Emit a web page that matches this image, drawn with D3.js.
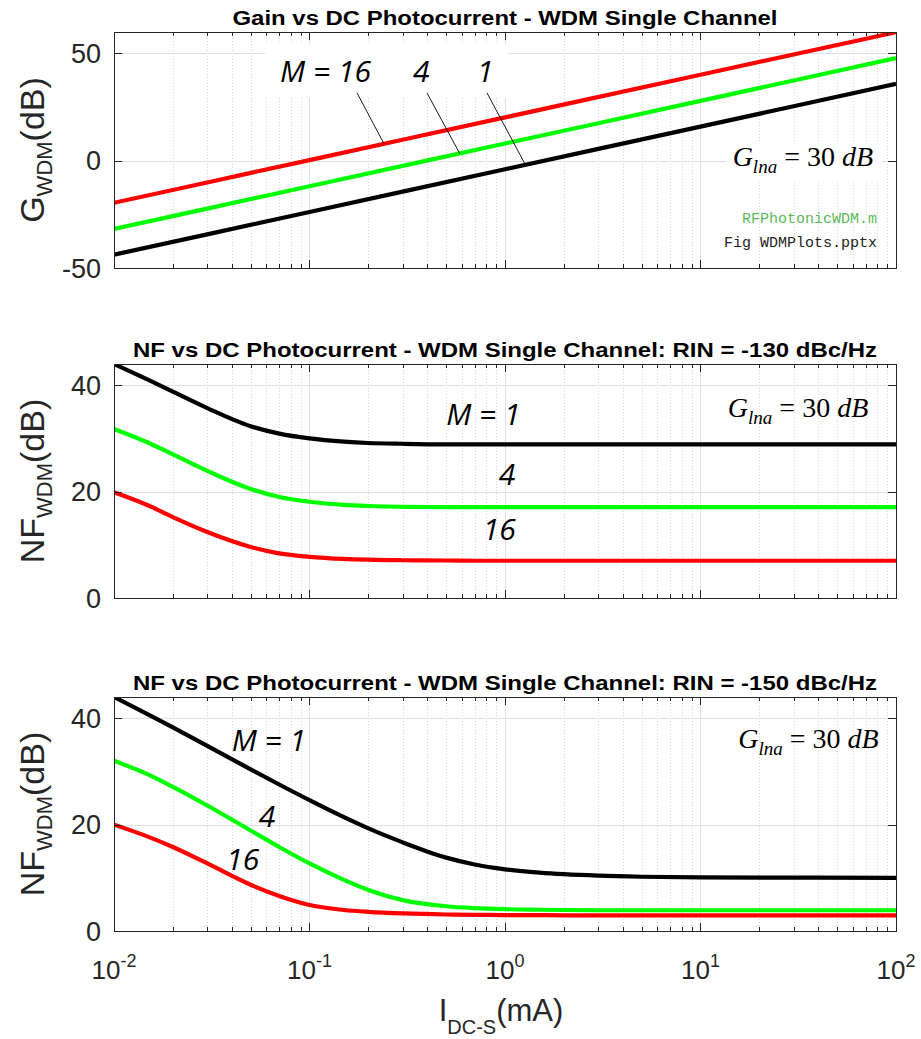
<!DOCTYPE html>
<html><head><meta charset="utf-8">
<script src="https://cdn.jsdelivr.net/npm/d3@7"></script>
<style>body{margin:0;background:#fff} svg{display:block}</style>
</head><body>
<svg id="c" width="921" height="1039"></svg>
<script>
// ---------------- DATA ----------------
const xDomain = [0.01, 100];
const xTickValues = [0.01, 0.1, 1, 10, 100];
const xTickExponents = ["-2", "-1", "0", "1", "2"];

// Panel 1: gain (straight lines on log-x), sampled at decades
const gainX = [0.01, 0.1, 1, 10, 100];
const gainM1  = [-43.8, -23.9, -4.0, 15.9, 35.8];
const gainM4  = [-31.8, -11.9, 8.0, 27.9, 47.8];
const gainM16 = [-19.6, 0.3, 20.2, 40.1, 59.9];
const gainYTicks = [-50, 0, 50];

// Panels 2 & 3: NF vs photocurrent
const nfX = [0.01, 0.015, 0.02, 0.03, 0.05, 0.07, 0.1, 0.15, 0.2, 0.3, 0.5, 0.7, 1, 1.5, 2, 3, 5, 10, 100];
const nf130M1  = [44.0, 41.0, 38.8, 35.7, 32.3, 30.9, 30.0, 29.4, 29.15, 29.0, 28.9, 28.9, 28.9, 28.9, 28.9, 28.9, 28.9, 28.9, 28.9];
const nf130M4  = [31.8, 29.2, 27.0, 23.9, 20.5, 19.0, 18.1, 17.5, 17.3, 17.15, 17.1, 17.1, 17.1, 17.1, 17.1, 17.1, 17.1, 17.1, 17.1];
const nf130M16 = [19.9, 17.4, 15.2, 12.4, 9.6, 8.4, 7.75, 7.35, 7.2, 7.1, 7.05, 7.0, 7.0, 7.0, 7.0, 7.0, 7.0, 7.0, 7.0];
const nf150M1  = [44.0, 40.7, 38.3, 34.8, 30.4, 27.55, 24.6, 21.4, 19.3, 16.66, 13.8, 12.5, 11.6, 10.98, 10.68, 10.4, 10.2, 10.08, 10.0];
const nf150M4  = [32.0, 29.4, 27.1, 23.6, 18.9, 15.8, 12.7, 9.6, 7.7, 5.8, 4.65, 4.3, 4.1, 4.0, 3.95, 3.9, 3.9, 3.9, 3.9];
const nf150M16 = [20.0, 17.7, 15.8, 12.7, 8.7, 6.6, 4.9, 3.95, 3.6, 3.3, 3.1, 3.05, 3.0, 2.98, 2.95, 2.95, 2.95, 2.95, 2.95];
const nfYTicks = [0, 20, 40];

const seriesColors = ["#000000", "#00ff00", "#ff0000"]; // M = 1, 4, 16
const titles = [
  "Gain vs DC Photocurrent - WDM Single Channel",
  "NF vs DC Photocurrent - WDM Single Channel: RIN = -130 dBc/Hz",
  "NF vs DC Photocurrent - WDM Single Channel: RIN = -150 dBc/Hz"
];
const titleWidths = [545, 744, 744];

// ---------------- LAYOUT ----------------
const X0 = 114, X1 = 896;
const x = d3.scaleLog().domain(xDomain).range([X0, X1]);
const svg = d3.select("#c");
const axisColor = "#262626";

const panels = [
  {top: 32, bottom: 268, domain: [-50, 60], ticks: gainYTicks, title: titles[0], tw: titleWidths[0], ylab: "G",
   xs: gainX, series: [gainM1, gainM4, gainM16], showX: false},
  {top: 364, bottom: 598, domain: [0, 44], ticks: nfYTicks, title: titles[1], tw: titleWidths[1], ylab: "NF",
   xs: nfX, series: [nf130M1, nf130M4, nf130M16], showX: false},
  {top: 697, bottom: 931, domain: [0, 44], ticks: nfYTicks, title: titles[2], tw: titleWidths[2], ylab: "NF",
   xs: nfX, series: [nf150M1, nf150M4, nf150M16], showX: true}
];

const minorVals = [];
for (let e = -2; e < 2; e++) for (let m = 2; m <= 9; m++) minorVals.push(m * Math.pow(10, e));

panels.forEach((p, i) => {
  const y = d3.scaleLinear().domain(p.domain).range([p.bottom, p.top]);
  p.y = y;
  const g = svg.append("g");
  const clipId = "clip" + i;
  svg.append("clipPath").attr("id", clipId).append("rect")
    .attr("x", X0).attr("y", p.top).attr("width", X1 - X0).attr("height", p.bottom - p.top);

  // grid
  g.selectAll(".minor").data(minorVals).enter().append("line")
    .attr("x1", d => Math.round(x(d)) + 0.5).attr("x2", d => Math.round(x(d)) + 0.5)
    .attr("y1", p.top).attr("y2", p.bottom)
    .attr("stroke", "#d6d6d6").attr("stroke-width", 1).attr("stroke-dasharray", "1,2");
  g.selectAll(".major").data(xTickValues.slice(1, -1)).enter().append("line")
    .attr("x1", d => Math.round(x(d)) + 0.5).attr("x2", d => Math.round(x(d)) + 0.5)
    .attr("y1", p.top).attr("y2", p.bottom)
    .attr("stroke", "#e0e0e0").attr("stroke-width", 1);
  g.selectAll(".hgrid").data(p.ticks).enter().append("line")
    .attr("x1", X0).attr("x2", X1)
    .attr("y1", d => Math.round(y(d)) + 0.5).attr("y2", d => Math.round(y(d)) + 0.5)
    .attr("stroke", "#e0e0e0").attr("stroke-width", 1);
  p.g = g;
});

// annotation background boxes (top panel) drawn before lines
(function () {
  const p = panels[0];
  p.g.append("rect")
    .attr("x", x(0.0593)).attr("y", p.y(54.4))
    .attr("width", x(1.04) - x(0.0593)).attr("height", p.y(29.2) - p.y(54.4))
    .attr("fill", "#fff");
  p.g.append("rect")
    .attr("x", x(13.5)).attr("y", p.y(8.5))
    .attr("width", x(85) - x(13.5)).attr("height", p.y(-9) - p.y(8.5))
    .attr("fill", "#fff");
})();

panels.forEach((p, i) => {
  const g = p.g, y = p.y;
  const line = d3.line().x(d => x(d[0])).y(d => y(d[1])).curve(d3.curveMonotoneX);
  p.series.forEach((s, k) => {
    g.append("path").datum(p.xs.map((xv, j) => [xv, s[j]]))
      .attr("d", line).attr("fill", "none")
      .attr("stroke", seriesColors[k]).attr("stroke-width", 4.2)
      .attr("clip-path", "url(#clip" + i + ")");
  });

  // box
  g.append("rect").attr("x", X0 + 0.5).attr("y", p.top + 0.5)
    .attr("width", X1 - X0).attr("height", p.bottom - p.top)
    .attr("fill", "none").attr("stroke", axisColor).attr("stroke-width", 1);

  // ticks
  const tk = g.append("g").attr("stroke", axisColor).attr("stroke-width", 1);
  xTickValues.forEach(v => {
    const xx = Math.round(x(v)) + 0.5;
    tk.append("line").attr("x1", xx).attr("x2", xx).attr("y1", p.bottom).attr("y2", p.bottom - 8);
    tk.append("line").attr("x1", xx).attr("x2", xx).attr("y1", p.top).attr("y2", p.top + 8);
  });
  minorVals.forEach(v => {
    const xx = Math.round(x(v)) + 0.5;
    tk.append("line").attr("x1", xx).attr("x2", xx).attr("y1", p.bottom).attr("y2", p.bottom - 4);
    tk.append("line").attr("x1", xx).attr("x2", xx).attr("y1", p.top).attr("y2", p.top + 4);
  });
  p.ticks.forEach(v => {
    const yy = Math.round(y(v)) + 0.5;
    tk.append("line").attr("x1", X0).attr("x2", X0 + 8).attr("y1", yy).attr("y2", yy);
    tk.append("line").attr("x1", X1).attr("x2", X1 - 8).attr("y1", yy).attr("y2", yy);
  });

  // y tick labels
  g.selectAll(".yl").data(p.ticks).enter().append("text")
    .attr("x", X0 - 13).attr("y", d => y(d) + 9.5)
    .attr("text-anchor", "end")
    .attr("font-family", "Liberation Sans, Arial, sans-serif")
    .attr("font-size", 27).attr("fill", axisColor)
    .text(d => d);

  // title
  g.append("text").attr("x", (X0 + X1) / 2).attr("y", p.top - 7)
    .attr("text-anchor", "middle")
    .attr("font-family", "Liberation Sans, Arial, sans-serif")
    .attr("font-weight", "bold").attr("font-size", 20).attr("fill", "#000")
    .attr("textLength", p.tw).attr("lengthAdjust", "spacingAndGlyphs")
    .text(p.title);

  // y label
  const cy = (p.top + p.bottom) / 2;
  const yl = g.append("text")
    .attr("transform", `translate(44,${cy}) rotate(-90)`)
    .attr("text-anchor", "middle")
    .attr("font-family", "Liberation Sans, Arial, sans-serif")
    .attr("font-size", 34).attr("fill", axisColor);
  yl.append("tspan").text(p.ylab);
  yl.append("tspan").attr("font-size", 22).attr("dy", 8).text("WDM");
  yl.append("tspan").attr("dy", -8).text("(dB)");

  // G_lna annotation
  const gl = [{x: 14.6, y: -2.5}, {x: 13.8, y: 34.0}, {x: 15.6, y: 34.4}][i];
  const t = g.append("text").attr("x", x(gl.x)).attr("y", y(gl.y))
    .attr("font-family", "Liberation Serif, Times New Roman, serif")
    .attr("font-size", 28).attr("fill", "#000");
  t.append("tspan").attr("font-style", "italic").text("G");
  t.append("tspan").attr("font-style", "italic").attr("font-size", 19).attr("dy", 7).text("lna");
  t.append("tspan").attr("dy", -7).text(" = 30 ");
  t.append("tspan").attr("font-style", "italic").text("dB");

  // x tick labels
  if (p.showX) {
    xTickValues.forEach((v, k) => {
      const tt = g.append("text").attr("x", x(v)).attr("y", p.bottom + 48)
        .attr("text-anchor", "middle")
        .attr("font-family", "Liberation Sans, Arial, sans-serif")
        .attr("font-size", 26).attr("fill", axisColor);
      tt.append("tspan").text("10");
      tt.append("tspan").attr("font-size", 18).attr("dy", -12).text(xTickExponents[k]);
    });
    const xl = g.append("text").attr("x", 501).attr("y", p.bottom + 90)
      .attr("text-anchor", "middle")
      .attr("font-family", "Liberation Sans, Arial, sans-serif")
      .attr("font-size", 31).attr("fill", axisColor);
    xl.append("tspan").text("I");
    xl.append("tspan").attr("font-size", 20).attr("dy", 13).text("DC-S");
    xl.append("tspan").attr("dy", -13).text("(mA)");
  }
});

// ---------------- ANNOTATIONS ----------------
const labelFont = "Open Sans, Noto Sans, sans-serif";
function mLabel(p, xv, yv, txt) {
  p.g.append("text").attr("x", x(xv)).attr("y", p.y(yv))
    .attr("font-family", labelFont).attr("font-style", "italic")
    .attr("font-size", 30).attr("fill", "#000").text(txt);
}
const P1 = panels[0];
mLabel(P1, 0.0707, 36.7, "M = 16");
mLabel(P1, 0.338, 36.7, "4");
mLabel(P1, 0.719, 36.7, "1");
const leaders = [
  [[0.175, 31.6], [0.2405, 7.9]],
  [[0.399, 31.6], [0.588, 3.2]],
  [[0.809, 31.6], [1.265, -1.5]]
];
leaders.forEach(l => {
  P1.g.append("line")
    .attr("x1", x(l[0][0])).attr("y1", P1.y(l[0][1]))
    .attr("x2", x(l[1][0])).attr("y2", P1.y(l[1][1]))
    .attr("stroke", "#000").attr("stroke-width", 0.9);
});
P1.g.append("text").attr("x", x(80)).attr("y", P1.y(-29.0)).attr("text-anchor", "end")
  .attr("font-family", "Liberation Mono, Courier New, monospace").attr("font-size", 15)
  .attr("fill", "#5cb85c").text("RFPhotonicWDM.m");
P1.g.append("text").attr("x", x(80)).attr("y", P1.y(-40.2)).attr("text-anchor", "end")
  .attr("font-family", "Liberation Mono, Courier New, monospace").attr("font-size", 15)
  .attr("fill", "#222").text("Fig WDMPlots.pptx");

const P2 = panels[1];
mLabel(P2, 0.50, 32.5, "M = 1");
mLabel(P2, 0.93, 21.2, "4");
mLabel(P2, 0.77, 10.9, "16");
const P3 = panels[2];
mLabel(P3, 0.0400, 33.8, "M = 1");
mLabel(P3, 0.0550, 19.6, "4");
mLabel(P3, 0.0375, 11.5, "16");
</script>
</body></html>
